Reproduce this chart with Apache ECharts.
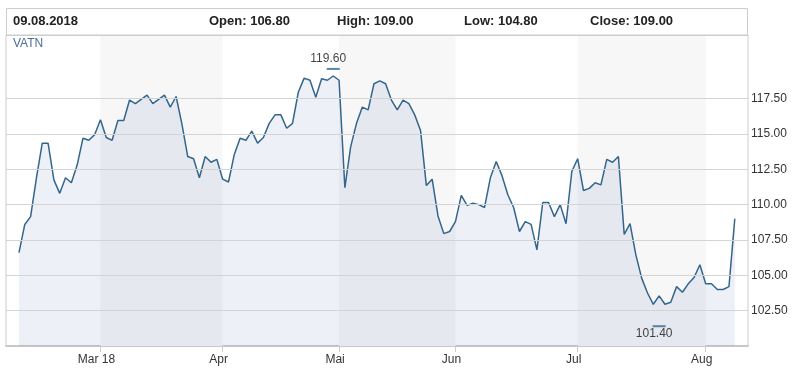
<!DOCTYPE html>
<html>
<head>
<meta charset="utf-8">
<script src="https://cdn.jsdelivr.net/npm/echarts@6/dist/echarts.min.js"></script>
<style>html,body{margin:0;padding:0;background:#fff}#c{width:795px;height:372px}</style>
</head>
<body>
<div id="c"></div>
<script>
// ---- data ----
const symbolName = 'VATN';
const headerDate = '09.08.2018';
const ohlcLabels = ['Open', 'High', 'Low', 'Close'];
const ohlcValues = [106.80, 109.00, 104.80, 109.00];

const dates = [
  '09.02','12.02','13.02','14.02','15.02','16.02','19.02','20.02','21.02','22.02','23.02','26.02','27.02','28.02',
  '01.03','02.03','05.03','06.03','07.03','08.03','09.03','12.03','13.03','14.03','15.03','16.03','19.03','20.03','21.03','22.03','23.03','26.03','27.03','28.03','29.03',
  '03.04','04.04','05.04','06.04','09.04','10.04','11.04','12.04','13.04','16.04','17.04','18.04','19.04','20.04','23.04','24.04','25.04','26.04','27.04','30.04',
  '02.05','03.05','04.05','07.05','08.05','09.05','11.05','14.05','15.05','16.05','17.05','18.05','22.05','23.05','24.05','25.05','28.05','29.05','30.05','31.05',
  '01.06','04.06','05.06','06.06','07.06','08.06','11.06','12.06','13.06','14.06','15.06','18.06','19.06','20.06','21.06','22.06','25.06','26.06','27.06','28.06','29.06',
  '02.07','03.07','04.07','05.07','06.07','09.07','10.07','11.07','12.07','13.07','16.07','17.07','18.07','19.07','20.07','23.07','24.07','25.07','26.07','27.07','30.07','31.07',
  '02.08','03.08','06.08','07.08','08.08','09.08'
];
const closes = [
  106.6,108.6,109.15,111.9,114.35,114.35,111.75,110.8,111.9,111.55,112.8,114.7,114.55,114.95,
  116.0,114.75,114.55,115.95,115.95,117.4,117.15,117.45,117.75,117.15,117.45,117.75,116.9,117.65,115.7,113.4,113.25,111.9,113.4,113.0,113.2,
  111.8,111.6,113.55,114.7,114.55,115.2,114.35,114.75,115.75,116.35,116.35,115.4,115.75,117.95,118.95,118.8,117.6,118.9,118.8,119.1,
  118.8,111.2,114.1,115.75,116.9,116.7,118.55,118.75,118.55,117.4,116.7,117.4,117.15,116.35,115.25,111.35,111.8,109.2,107.95,108.1,
  108.8,110.65,109.95,110.1,110.0,109.8,111.9,113.05,112.05,110.7,109.8,108.1,108.8,108.6,106.8,110.15,110.15,109.15,110.0,108.65,112.35,
  113.25,111.0,111.15,111.55,111.4,113.2,113.0,113.4,107.9,108.65,106.45,104.8,103.75,102.95,103.55,102.95,103.1,104.2,103.8,104.4,104.85,105.75,
  104.4,104.4,104.0,104.0,104.2,109.0
];
const xTickLabels = ['Mar 18', 'Apr', 'Mai', 'Jun', 'Jul', 'Aug'];
const xTickDates = ['01.03', '03.04', '02.05', '01.06', '02.07', '02.08'];
const yTicks = [102.5, 105, 107.5, 110, 112.5, 115, 117.5];
const bandDates = [['01.03', '03.04'], ['02.05', '01.06'], ['02.07', '02.08']];
const highMark = { date: '30.04', value: 119.60 };
const lowMark = { date: '20.07', value: 101.40 };

// ---- chart ----
const FONT = '"Liberation Sans", Arial, sans-serif';
const idx = d => dates.indexOf(d);
const seriesData = closes.map((v, i) => [i, v]);
const tickIdx = xTickDates.map(idx);
const lineColor = '#33668d';

const chart = echarts.init(document.getElementById('c'), null, { renderer: 'canvas' });
const headerTexts = [headerDate].concat(ohlcLabels.map((l, i) => l + ': ' + ohlcValues[i].toFixed(2)));
const headerX = [13, 209, 337, 464, 590];

chart.setOption({
  animation: false,
  grid: { left: 6, right: 47, top: 35, bottom: 26, show: true, borderColor: '#cccccc', borderWidth: 1, backgroundColor: 'transparent' },
  xAxis: {
    type: 'value', min: -2.23, max: 125.27,
    splitLine: { show: false },
    axisLine: { show: true, lineStyle: { color: '#c8c8c8', width: 2 } },
    axisTick: { show: true, customValues: tickIdx, length: 6, lineStyle: { color: '#cccccc' } },
    axisLabel: {
      customValues: tickIdx, margin: 8, color: '#333', fontSize: 12, fontFamily: FONT,
      padding: [0, 8, 0, 0],
      formatter: v => { const k = tickIdx.indexOf(Math.round(v)); return k >= 0 ? xTickLabels[k] : ''; }
    }
  },
  yAxis: {
    type: 'value', position: 'right', min: 100, max: 122, interval: 2.5,
    splitLine: { show: false }, axisLine: { show: false }, axisTick: { show: false },
    axisLabel: { margin: 3, color: '#333', fontSize: 12, fontFamily: FONT,
      formatter: v => yTicks.indexOf(v) >= 0 ? v.toFixed(2) : '' }
  },
  graphic: [
    { type: 'rect', shape: { x: 6.5, y: 8.5, width: 741, height: 27 }, style: { fill: 'none', stroke: '#cccccc', lineWidth: 1 }, z: 10 },
    ...headerTexts.map((t, i) => ({ type: 'text', x: headerX[i], y: 21.5, z: 11,
      style: { text: t, font: 'bold 13px ' + FONT, fill: '#222', verticalAlign: 'middle', align: 'left' } })),
    { type: 'text', x: 13, y: 44, z: 11, style: { text: symbolName, font: '12px ' + FONT, fill: '#4d6d9a', verticalAlign: 'middle' } }
  ],
  series: [
    {
      type: 'line', data: [], z: 1, silent: true,
      markArea: { silent: true, itemStyle: { color: '#f7f7f7' },
        data: bandDates.map(b => [{ xAxis: idx(b[0]) }, { xAxis: idx(b[1]) }]) }
    },
    {
      type: 'line', data: [], z: 2, silent: true,
      markLine: { silent: true, symbol: ['none', 'none'], label: { show: false },
        lineStyle: { type: 'solid', color: '#d4d4d4', width: 1 },
        data: yTicks.map(v => ({ yAxis: v })) }
    },
    {
      type: 'line', data: seriesData, z: 3, symbol: 'none', showSymbol: false,
      lineStyle: { color: lineColor, width: 1.5 },
      areaStyle: { origin: 'start', color: 'rgba(40,70,150,0.115)' }
    },
    {
      type: 'scatter', z: 4, silent: true,
      data: [
        { value: [idx(highMark.date), highMark.value], label: { position: 'top', distance: 3, offset: [-5, 0], formatter: highMark.value.toFixed(2) } },
        { value: [idx(lowMark.date), lowMark.value], label: { position: 'bottom', distance: 0, offset: [-5, 0], formatter: lowMark.value.toFixed(2) } }
      ],
      symbol: 'rect', symbolSize: [13, 2],
      itemStyle: { color: lineColor },
      label: { show: true, color: '#111', fontSize: 12, fontFamily: FONT }
    }
  ]
});
</script>
</body>
</html>
